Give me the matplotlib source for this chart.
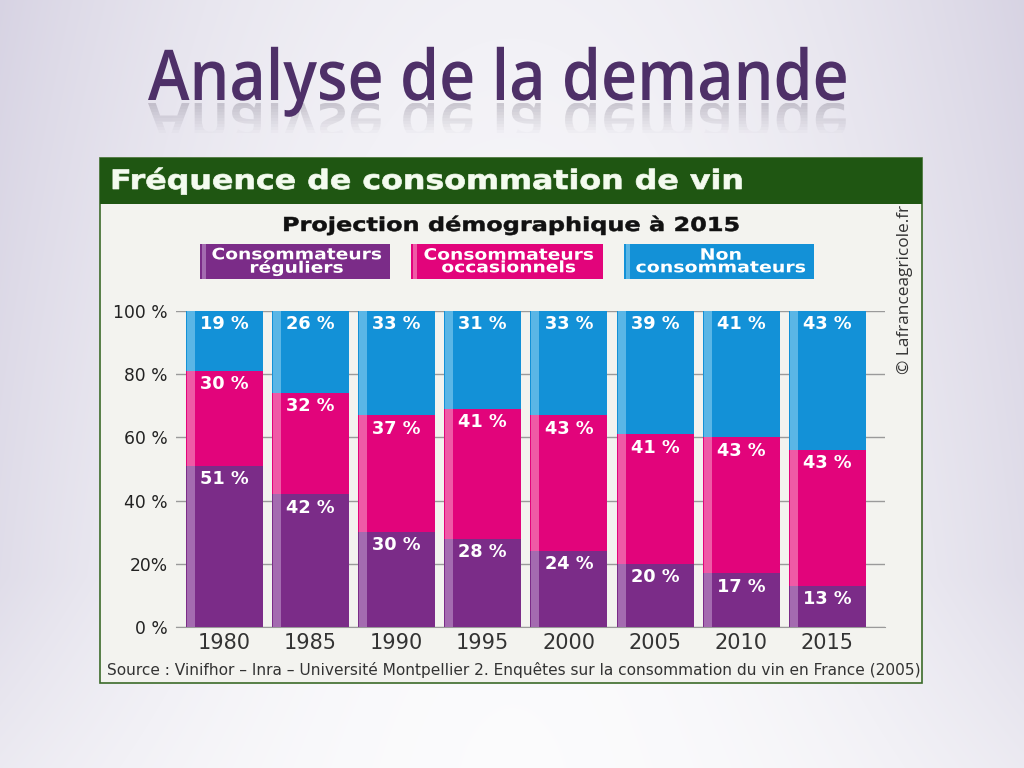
import numpy as np
import matplotlib
matplotlib.use("Agg")
import matplotlib.pyplot as plt
from matplotlib.patches import Rectangle, PathPatch
from matplotlib.textpath import TextPath
from matplotlib.font_manager import FontProperties
from matplotlib.transforms import Affine2D
from matplotlib.patheffects import AbstractPathEffect

# ---------------- data ----------------
years = ["1980", "1985", "1990", "1995", "2000", "2005", "2010", "2015"]
reguliers = [51, 42, 30, 28, 24, 20, 17, 13]
occasionnels = [30, 32, 37, 41, 43, 41, 43, 43]
non_conso = [19, 26, 33, 31, 33, 39, 41, 43]
yticks = [0, 20, 40, 60, 80, 100]
ytick_labels = ["0 %", "20%", "40 %", "60 %", "80 %", "100 %"]
legend_labels = ["Consommateurs\nréguliers", "Consommateurs\noccasionnels", "Non\nconsommateurs"]

C_PURPLE = "#7b2c88"
C_PINK = "#e2047b"
C_BLUE = "#1391d7"
C_PURPLE_L = "#a46bb0"
C_PINK_L = "#ef5aa6"
C_BLUE_L = "#5ab6e6"
C_GREEN = "#1f5612"
BOX_BG = "#f3f3ef"

W, H = 1024, 768
DPI = 100
fig = plt.figure(figsize=(W / DPI, H / DPI), dpi=DPI)
renderer = fig.canvas.get_renderer()


class Stretch(AbstractPathEffect):
    """Draw text scaled about a point (display coords), optionally emboldened.
    The artist stays a real Text object."""
    def __init__(self, sx, sy, cx, cy, stroke=0.0):
        super().__init__()
        self.t = Affine2D().translate(-cx, -cy).scale(sx, sy).translate(cx, cy)
        self.stroke = stroke

    def draw_path(self, renderer, gc, tpath, affine, rgbFace=None):
        if self.stroke > 0 and rgbFace is not None:
            gc0 = renderer.new_gc()
            gc0.copy_properties(gc)
            gc0.set_linewidth(self.stroke)
            gc0.set_foreground(rgbFace)
            gc0.set_joinstyle("miter")
            renderer.draw_path(gc0, tpath, affine + self.t, rgbFace)
            gc0.restore()
        else:
            renderer.draw_path(gc, tpath, affine + self.t, rgbFace)


def cap_ratio(fp):
    return TextPath((0, 0), "H", size=1, prop=fp).get_extents().y1


# ---------------- background overlay axes (pixel coords) ----------------
bg = fig.add_axes([0, 0, 1, 1], zorder=0)
bg.set_xlim(0, W)
bg.set_ylim(H, 0)
bg.axis("off")

yy, xx = np.mgrid[0:H, 0:W]
u = (xx - W / 2) / (W / 2)
v = yy / H
tint = np.clip(0.55 * u ** 2 + 0.35 * (1 - v) ** 1.5 * 0.6, 0, 1)
tint = tint * (0.6 + 0.4 * (1 - np.clip((v - 0.75) / 0.25, 0, 1)))
white = np.array([0.985, 0.985, 0.99])
lav = np.array([0.80, 0.78, 0.86])
img = white[None, None, :] * (1 - tint[..., None]) + lav[None, None, :] * tint[..., None]
bg.imshow(img, extent=[0, W, H, 0], aspect="auto", zorder=0)


def fit(txt_obj, target_w):
    fs = txt_obj.get_fontsize()
    for _ in range(3):
        w = txt_obj.get_window_extent(renderer=renderer).width
        fs = fs * target_w / w
        txt_obj.set_fontsize(fs)
    return txt_obj


def stretched_text(x, y, s, width, cap_px, fp_kw, ha="left", va="baseline", stroke=0.0, **kw):
    """Real text whose glyph cap height is cap_px and ink width is `width`."""
    fp = FontProperties(**fp_kw)
    fs_px = cap_px / cap_ratio(fp)
    t = bg.text(x, y, s, fontsize=fs_px * 72 / DPI, ha=ha, va=va, fontproperties=fp, **kw)
    ext = t.get_window_extent(renderer=renderer)
    sx = width / ext.width
    cx = ext.x0 if ha == "left" else (ext.x0 + ext.x1) / 2
    cy = (ext.y0 + ext.y1) / 2
    t.set_path_effects([Stretch(sx, 1.0, cx, cy, stroke)])
    return t, fs_px, sx


# ---------------- slide title with reflection ----------------
title = "Analyse de la demande"
title_fp = dict(family="Open Sans", weight="semibold")
base = 100
tt, fs_px, sxt = stretched_text(148, base, title, 700, 50, title_fp,
                                color="#4e3068", zorder=5)
# reflection (decorative, mirrored glyph outlines), fading downwards
tp = TextPath((0, 0), title, size=100, prop=FontProperties(**title_fp))
scale = fs_px / 100
tr_r = Affine2D().scale(scale * sxt, scale * 0.9).translate(148, base + 3) + bg.transData
nstrip = 10
for k in range(nstrip):
    y_a = base + 3 + k * 3
    patch = PathPatch(tp, transform=tr_r, facecolor="#8a8494", edgecolor="none",
                      alpha=0.38 * (1 - k / nstrip), zorder=4)
    bg.add_patch(patch)
    patch.set_clip_path(Rectangle((0, y_a), W, 3, transform=bg.transData))

# ---------------- chart box ----------------
bx0, bx1, by0, by1 = 100, 922, 158, 683
bg.add_patch(Rectangle((bx0, by0), bx1 - bx0, by1 - by0, facecolor=BOX_BG,
                       edgecolor="#3c6b2a", linewidth=1.2, zorder=2))
bg.add_patch(Rectangle((bx0, by0), bx1 - bx0, 46, facecolor=C_GREEN, edgecolor="none", zorder=3))
stretched_text(110, 189, "Fréquence de consommation de vin", 635, 19.5,
               dict(family="DejaVu Sans", weight="bold"), stroke=0.5,
               color="#f4fbef", zorder=6)

stretched_text(511, 231, "Projection démographique à 2015", 458, 14,
               dict(family="DejaVu Sans", weight="bold"), ha="center", stroke=0.35,
               color="#111111", zorder=6)

# legend boxes
leg_x = [(200, 390), (411, 603), (624, 814)]
leg_cols = [C_PURPLE, C_PINK, C_BLUE]
leg_light = [C_PURPLE_L, C_PINK_L, C_BLUE_L]
for (lx0, lx1), col, lc, lab in zip(leg_x, leg_cols, leg_light, legend_labels):
    bg.add_patch(Rectangle((lx0, 244), lx1 - lx0, 35, facecolor=col, edgecolor="none", zorder=3))
    bg.add_patch(Rectangle((lx0 + 2, 244), 4, 35, facecolor=lc, edgecolor="none", zorder=3))
    lt = bg.text((lx0 + lx1) / 2 + 2, 261.5, lab, color="white", fontsize=11.3, fontweight="bold",
                 family="DejaVu Sans", ha="center", va="center", linespacing=0.8, zorder=6)
    ext = lt.get_window_extent(renderer=renderer)
    lt.set_path_effects([Stretch(171 / ext.width, 1.0, (ext.x0 + ext.x1) / 2,
                                 (ext.y0 + ext.y1) / 2, 0.0)])

# watermark
bg.text(905, 289, "© Lafranceagricole.fr", color="#333333", fontsize=12.4,
        family="Open Sans", rotation=90, ha="center", va="center", zorder=6)

# source
t = bg.text(107, 670, "Source : Vinifhor – Inra – Université Montpellier 2. Enquêtes sur la consommation du vin en France (2005)",
            color="#333333", fontsize=10, family="DejaVu Sans", ha="left", va="center", zorder=6)
fit(t, 810)

# ---------------- bar chart axes ----------------
ax_l, ax_r, ax_t, ax_b = 176, 885, 311, 627
ax = fig.add_axes([ax_l / W, (H - ax_b) / H, (ax_r - ax_l) / W, (ax_b - ax_t) / H], zorder=3)
ax.patch.set_alpha(0)
step = 86.1
ax.set_xlim((ax_l - 224.5) / step, (ax_r - 224.5) / step)
ax.set_ylim(0, 100)
x = np.arange(len(years))
bw = 77 / step
stripe = 8 / step

reg = np.array(reguliers)
occ = np.array(occasionnels)
non = np.array(non_conso)
# top segment fills the 100 % stacked column; labels keep the published values
non_drawn = 100 - (reg + occ)
series = [(reg, reg, np.zeros_like(reg), C_PURPLE, C_PURPLE_L),
          (occ, occ, reg, C_PINK, C_PINK_L),
          (non_drawn, non, reg + occ, C_BLUE, C_BLUE_L)]
for vals, labels, bottom, col, lc in series:
    ax.bar(x, vals, bottom=bottom, width=bw, color=col, edgecolor="none", zorder=3)
    ax.bar(x - bw / 2 + 1 / step, vals, bottom=bottom, width=stripe, align="edge",
           color=lc, edgecolor="none", zorder=3.5)
    for xi, v_, lab_, b_ in zip(x, vals, labels, bottom):
        top = min(b_ + v_, 100)
        ax.text(xi, top - 4.2, f"{lab_} %", color="white", fontsize=12.8,
                fontweight="bold", family="DejaVu Sans", ha="center", va="center", zorder=5)

ax.set_yticks(yticks)
ax.set_yticklabels(ytick_labels, fontsize=12.3, color="#222222", family="DejaVu Sans")
ax.set_xticks(x)
ax.set_xticklabels(years, fontsize=15, color="#333333", family="DejaVu Sans")
ax.tick_params(axis="y", length=0, pad=6)
ax.tick_params(axis="x", length=0, pad=4)
ax.grid(axis="y", color="#9a9a9a", linewidth=1, zorder=1)
ax.set_axisbelow(True)
for s in ["left", "right", "top"]:
    ax.spines[s].set_visible(False)
ax.spines["bottom"].set_color("#9a9a9a")
ax.spines["bottom"].set_zorder(1)

fig.savefig("out.png", dpi=DPI)
